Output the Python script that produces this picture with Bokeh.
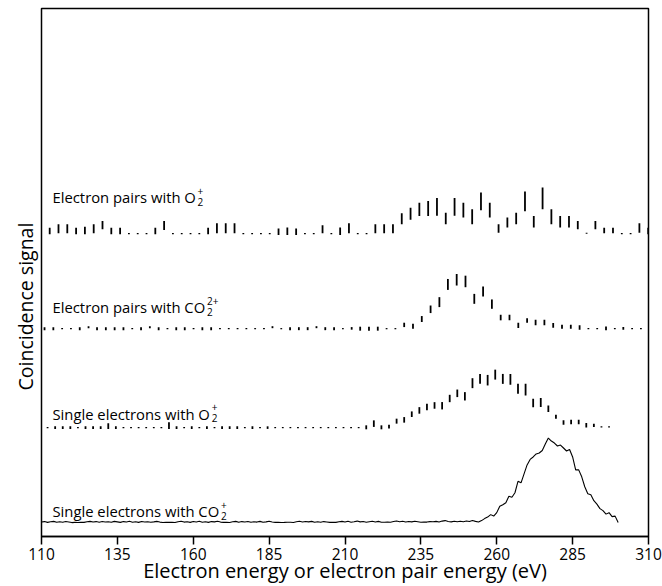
from bokeh.plotting import figure
from bokeh.models import ColumnDataSource, FixedTicker, Title
from bokeh.core.properties import value
from bokeh.embed import file_html
from bokeh.resources import INLINE

# ---------------- data ----------------
x_ticks = [110, 135, 160, 185, 210, 235, 260, 285, 310]

# Single electrons with CO2+ (continuous trace), signal above its baseline
co2_single_energy = [
    110, 111, 112, 113, 114, 115, 116, 117, 118, 119,
    120, 121, 122, 123, 124, 125, 126, 127, 128, 129,
    130, 131, 132, 133, 134, 135, 136, 137, 138, 139,
    140, 141, 142, 143, 144, 145, 146, 147, 148, 149,
    150, 151, 152, 153, 154, 155, 156, 157, 158, 159,
    160, 161, 162, 163, 164, 165, 166, 167, 168, 169,
    170, 171, 172, 173, 174, 175, 176, 177, 178, 179,
    180, 181, 182, 183, 184, 185, 186, 187, 188, 189,
    190, 191, 192, 193, 194, 195, 196, 197, 198, 199,
    200, 201, 202, 203, 204, 205, 206, 207, 208, 209,
    210, 211, 212, 213, 214, 215, 216, 217, 218, 219,
    220, 221, 222, 223, 224, 225, 226, 227, 228, 229,
    230, 231, 232, 233, 234, 235, 236, 237, 238, 239,
    240, 241, 242, 243, 244, 245, 246, 247, 248, 249,
    250, 251, 252, 253, 254, 255, 256, 257, 258, 259,
    260, 261, 262, 263, 264, 265, 266, 267, 268, 269,
    270, 271, 272, 273, 274, 275, 276, 277, 278, 279,
    280, 281, 282, 283, 284, 285, 286, 287, 288, 289,
    290, 291, 292, 293, 294, 295, 296, 297, 298, 299,
    300]
co2_single_signal = [
    0.5, 1.0, 0.2, 0.8, 1.2, 0.4, 0.9, 0.3, 1.1, 0.6,
    0.0, 0.2, 0.1, 0.3, 0.2, 0.8, 1.2, 0.5, 1.0, 0.4,
    1.1, 0.6, 0.9, 0.3, 1.2, 0.7, 0.2, 1.0, 0.5, 1.3,
    0.4, 0.8, 0.2, 1.1, 0.6, 0.9, 0.3, 0.7, 1.2, 0.5,
    0.1, 0.3, 0.2, 0.4, 0.1, 0.9, 1.3, 0.5, 0.8, 0.2,
    1.1, 0.6, 1.4, 0.4, 0.9, 0.2, 1.0, 0.7, 1.3, 0.5,
    0.2, 0.4, 0.1, 0.8, 1.2, 0.3, 1.0, 0.6, 1.1, 0.4,
    0.9, 0.5, 1.2, 0.3, 0.7, 1.4, 0.6, 0.2, 0.3, 0.1,
    0.2, 0.4, 0.3, 0.1, 0.9, 1.3, 0.5, 1.1, 0.7, 1.2,
    0.4, 0.8, 0.3, 1.0, 0.6, 0.2, 0.3, 0.2, 0.8, 1.2,
    0.6, 1.3, 0.4, 0.9, 1.5, 0.7, 1.1, 0.3, 0.9, 1.4,
    0.6, 1.2, 0.4, 0.3, 0.5, 0.4, 1.0, 1.6, 0.8, 1.3,
    0.5, 1.1, 0.7, 1.4, 0.9, 0.4, 0.6, 0.5, 1.0, 0.8,
    1.2, 0.6, 1.5, 2.0, 1.1, 0.7, 1.3, 0.8, 1.4, 0.9,
    1.6, 1.0, 2.1, 1.2, 0.5, 2.0, 4.0, 5.5, 8.0, 6.5,
    10.0, 16.5, 18.0, 20.0, 26.5, 25.5, 30.0, 41.5, 40.0, 49.0,
    58.0, 63.5, 66.0, 69.0, 70.0, 72.5, 79.0, 85.0, 82.0, 80.0,
    77.0, 78.0, 75.0, 72.0, 73.5, 66.0, 53.0, 53.0, 46.0, 36.0,
    29.0, 28.0, 22.0, 18.5, 14.0, 12.0, 8.5, 10.0, 6.0, 6.5,
    0.0]

# Single electrons with O2+ (points with error bars)
o2_single_energy = [
    112, 114.5, 117, 119.5, 122, 124.5, 127, 129.5, 132, 134.5,
    137, 139.5, 142, 144.5, 147, 149.5, 152, 154.5, 157, 159.5,
    162, 164.5, 167, 169.5, 172, 174.5, 177, 179.5, 182, 184.5,
    187, 189.5, 192, 194.5, 197, 199.5, 202, 204.5, 207, 209.5,
    212, 214.5, 217, 219.5, 222, 224.5, 227, 229.5, 232, 234.5,
    237, 239.5, 242, 244.5, 247, 249.5, 252, 254.5, 257, 259.5,
    262, 264.5, 267, 269.5, 272, 274.5, 277, 279.5, 282, 284.5,
    287, 289.5, 292, 294.5, 297]
o2_single_signal = [
    0, 0, 0, 0, 0, 0, 0, 0, 1.5, 0,
    0, 0, 0, 0, 0, 0, 2.0, 0, 0, 0,
    0, 0, 0, 0, 0, 0, 0, 0, 0, 0,
    0, 0, 0, 0, 0, 0, 0, 0, 0, 0,
    0, 0, 0.3, 4.0, 0.3, 1.0, 6.5, 7.8, 13.5, 17.3,
    20.7, 22.3, 22.0, 29.3, 34.5, 31.5, 44.7, 49.0, 47.7, 53.3,
    49.0, 48.5, 39.0, 38.2, 24.8, 25.2, 19.0, 11.0, 5.2, 5.7,
    5.7, 2.3, 2.3, 0.7, 0.7]
o2_single_err = [
    0.6, 1.3, 1.3, 1.3, 0.6, 1.3, 1.3, 1.3, 3.0, 1.3,
    0.6, 0.6, 0.6, 0.6, 0.6, 0.6, 3.5, 1.3, 0.6, 1.3,
    0.6, 1.3, 0.6, 1.3, 1.3, 1.3, 0.6, 1.3, 0.6, 1.3,
    0.6, 0.6, 0.6, 0.6, 0.6, 0.6, 0.6, 0.6, 0.6, 0.6,
    0.6, 0.6, 2.0, 3.3, 2.0, 2.0, 2.5, 2.8, 2.8, 3.3,
    3.3, 3.3, 3.7, 3.7, 3.8, 4.2, 5.0, 5.0, 5.3, 5.0,
    5.0, 5.5, 5.0, 5.8, 4.2, 4.5, 3.3, 2.0, 2.2, 2.3,
    2.3, 2.3, 1.7, 0.6, 0.6]

# Electron pairs with CO2 2+
co2_pairs_energy = [
    111.0, 113.9, 116.8, 119.7, 122.6, 125.5, 128.3, 131.2, 134.1, 137.0,
    139.9, 142.8, 145.7, 148.6, 151.5, 154.4, 157.2, 160.1, 163.0, 165.9,
    168.8, 171.7, 174.6, 177.5, 180.4, 183.3, 186.1, 189.0, 191.9, 194.8,
    197.7, 200.6, 203.5, 206.4, 209.3, 212.2, 215.0, 217.9, 220.8, 223.7,
    226.6, 229.5, 232.4, 235.3, 238.2, 241.1, 243.9, 246.8, 249.7, 252.6,
    255.5, 258.4, 261.3, 264.2, 267.1, 270.0, 272.8, 275.7, 278.6, 281.5,
    284.4, 287.3, 290.2, 293.1, 296.0, 298.9, 301.7, 304.6, 307.5]
co2_pairs_signal = [
    0, 0, 0, 0, 0, 1.5, 0, 0, 0, 0,
    0, 0, 1.5, 0, 0, 0, 0, 0, 0, 0,
    0, 0, 0, 0, 0, 0, 1.5, 0, 0, 0,
    0, 1.5, 0, 0, 0, 0.3, 0, 0, 0, 0,
    0, 3.8, 2.5, 9.7, 19.5, 26.7, 44.5, 49.2, 47.5, 30.0,
    37.3, 24.7, 11.2, 11.2, 3.3, 8.3, 6.2, 6.2, 3.3, 2.0,
    2.0, 1.2, 0, 0, 0.3, 0, 0.3, 0, 0]
co2_pairs_err = [
    1.5, 1.5, 0.6, 0.6, 1.5, 1.0, 1.5, 1.5, 1.5, 1.5,
    0.6, 1.5, 1.0, 1.5, 0.6, 1.5, 1.5, 0.6, 1.5, 1.5,
    0.6, 0.6, 0.6, 0.6, 0.6, 0.6, 1.0, 0.6, 1.5, 1.5,
    1.5, 1.0, 1.5, 1.5, 0.6, 1.3, 2.0, 2.0, 2.0, 0.6,
    0.6, 2.2, 2.5, 3.0, 3.8, 5.0, 5.5, 5.8, 5.8, 5.0,
    5.0, 4.7, 2.8, 2.8, 2.7, 2.3, 2.8, 2.8, 2.3, 2.0,
    2.0, 2.2, 0.6, 0.6, 2.0, 0.6, 1.3, 0.6, 0.6]

# Electron pairs with O2+
o2_pairs_energy = [
    112.7, 115.6, 118.5, 121.4, 124.3, 127.2, 130.1, 133.0, 135.9, 138.8,
    141.7, 144.6, 147.5, 150.4, 153.3, 156.2, 159.1, 162.0, 164.9, 167.8,
    170.7, 173.6, 176.5, 179.4, 182.3, 185.2, 188.1, 191.0, 193.9, 196.8,
    199.7, 202.6, 205.5, 208.4, 211.3, 214.2, 217.1, 220.0, 222.9, 225.8,
    228.7, 231.6, 234.5, 237.4, 240.3, 243.2, 246.1, 249.0, 251.9, 254.8,
    257.7, 260.6, 263.5, 266.4, 269.3, 272.2, 275.1, 278.0, 280.9, 283.8,
    286.7, 289.6, 292.5, 295.4, 298.3, 301.2, 304.1, 307.0, 309.9]
o2_pairs_signal = [
    2.8, 5.0, 5.0, 2.8, 3.3, 5.0, 8.7, 2.8, 2.8, 0,
    0, 0, 2.8, 8.3, 0, 0, 0, 0, 2.8, 5.5,
    5.5, 5.5, 0, 0, 0, 0, 2.0, 2.5, 2.0, 0,
    0, 4.5, 0, 2.5, 5.5, 0, 0, 5.0, 5.0, 5.0,
    15.0, 20.0, 24.5, 25.3, 27.0, 15.3, 27.0, 23.7, 17.0, 32.5,
    23.7, 5.3, 11.2, 15.3, 32.5, 12.0, 35.5, 17.0, 12.0, 12.0,
    8.7, 0.5, 8.7, 3.3, 3.3, 0, 0, 5.8, 2.8]
o2_pairs_err = [
    3.3, 4.5, 4.5, 3.3, 3.8, 4.5, 4.2, 3.3, 3.3, 0.6,
    0.6, 0.6, 3.3, 4.5, 0.6, 0.6, 0.6, 0.6, 3.3, 5.0,
    5.0, 5.0, 0.6, 0.6, 0.6, 0.6, 3.2, 3.7, 3.2, 0.6,
    0.6, 4.0, 0.6, 3.7, 5.0, 0.6, 0.6, 4.5, 4.5, 4.5,
    5.5, 6.0, 6.7, 7.5, 9.0, 5.8, 9.0, 7.5, 7.5, 9.0,
    7.5, 4.2, 5.0, 5.8, 10.0, 5.8, 11.0, 7.5, 5.8, 5.8,
    4.2, 0.6, 4.2, 2.8, 2.8, 0.6, 0.6, 4.7, 3.3]

# ---------------- layout / style ----------------
FONT = "Open Sans"
W, H = 662, 586
FRAME_L, FRAME_R, FRAME_T, FRAME_B = 41, 648, 8, 539
X0, X1 = 110, 310
Y_TOP = FRAME_B - FRAME_T          # 1 y-unit == 1 px
PX_PER_X = (FRAME_R - FRAME_L) / (X1 - X0)

# vertical baselines of the stacked traces (y units)
BASE = {"co2_single": 14, "o2_single": 109.5, "co2_pairs": 209, "o2_pairs": 304.5}

p = figure(width=W, height=H, x_range=(X0, X1), y_range=(0, Y_TOP),
           output_backend="svg", toolbar_location=None,
           min_border_left=FRAME_L, min_border_right=W - FRAME_R,
           min_border_top=FRAME_T, min_border_bottom=H - FRAME_B)
p.background_fill_color = "white"
p.border_fill_color = "white"
p.outline_line_color = "black"
p.outline_line_width = 1.5
p.xgrid.visible = False
p.ygrid.visible = False
p.yaxis.visible = False

ax = p.xaxis[0]
ax.ticker = FixedTicker(ticks=x_ticks)
ax.major_tick_out = 8
ax.major_tick_in = 0
ax.minor_tick_out = 0
ax.minor_tick_in = 0
ax.major_tick_line_width = 1.5
ax.axis_line_width = 1.5
ax.major_label_text_font = FONT
ax.major_label_text_font_size = "15.5px"
ax.major_label_text_color = "black"
ax.major_label_standoff = 3
ax.axis_label = "Electron energy or electron pair energy (eV)"
ax.axis_label_text_font = FONT
ax.axis_label_text_font_size = "20px"
ax.axis_label_text_font_style = "normal"
ax.axis_label_text_color = "black"
ax.axis_label_standoff = -6

# continuous trace
p.line(co2_single_energy, [BASE["co2_single"] + v for v in co2_single_signal],
       line_color="black", line_width=1.1)

def error_bars(xs, vals, errs, base):
    src = ColumnDataSource(dict(
        x=xs,
        lo=[base + v - e for v, e in zip(vals, errs)],
        hi=[base + v + e for v, e in zip(vals, errs)]))
    p.segment(x0="x", y0="lo", x1="x", y1="hi", source=src,
              line_color="black", line_width=1.8)

error_bars(o2_single_energy, o2_single_signal, o2_single_err, BASE["o2_single"])
error_bars(co2_pairs_energy, co2_pairs_signal, co2_pairs_err, BASE["co2_pairs"])
error_bars(o2_pairs_energy, o2_pairs_signal, o2_pairs_err, BASE["o2_pairs"])

# trace labels with stacked sub/superscripts
LABEL_FS = 14.8
SUB_FS = 10
TEXT_LEFT_PX = 52

def px_to_x(px):
    return X0 + (px - FRAME_L) / PX_PER_X

def put(txt, px, y, fs):
    p.text(x=[px_to_x(px)], y=[y], text=[txt], text_font=value(FONT),
           text_font_size=value(f"{fs}px"), text_color="black",
           text_align="left", text_baseline="alphabetic")

labels = [
    # main, baseline y (data), end offset (em), sub, sup
    ("Electron pairs with O", 341, 9.735, "2", "+"),
    ("Electron pairs with CO", 230.5, 10.368, "2", "2+"),
    ("Single electrons with O", 123.5, 10.69, "2", "+"),
    ("Single electrons with CO", 25.5, 11.32, "2", "+"),
]
for main, yb, em, sub, sup in labels:
    put(main, TEXT_LEFT_PX, yb, LABEL_FS)
    sx = TEXT_LEFT_PX + em * LABEL_FS + 1
    put(sub, sx, yb - 4.5, SUB_FS)
    put(sup, sx, yb + 6.5, SUB_FS)

# y-axis title on the left side panel
p.add_layout(Title(text="Coincidence signal", align="left", offset=146,
                   standoff=6, text_font=FONT, text_font_size="19.5px",
                   text_font_style="normal", text_color="black"), "left")

open("out.html", "w").write(file_html(p, INLINE))
